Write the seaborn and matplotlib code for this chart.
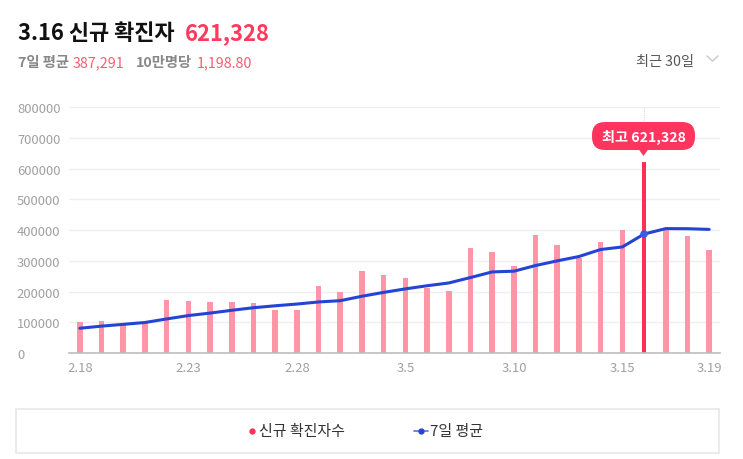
import numpy as np
import pandas as pd
import matplotlib
matplotlib.use("Agg")
import matplotlib.pyplot as plt
from matplotlib.patches import FancyBboxPatch, Polygon, Rectangle
from matplotlib.lines import Line2D
from matplotlib.transforms import IdentityTransform
import seaborn as sns

# ---- data ----
dates = ["2.18", "2.19", "2.20", "2.21", "2.22", "2.23", "2.24", "2.25", "2.26", "2.27",
         "2.28", "3.1", "3.2", "3.3", "3.4", "3.5", "3.6", "3.7", "3.8", "3.9",
         "3.10", "3.11", "3.12", "3.13", "3.14", "3.15", "3.16", "3.17", "3.18", "3.19"]
new_cases = [102211, 104829, 95362, 99573, 171452, 170016, 165890, 166209, 163566, 139626,
             138993, 219241, 198803, 266853, 254327, 243628, 210716, 202721, 342446, 327549,
             282987, 383665, 350190, 309790, 362338, 400741, 621328, 407017, 381454, 334708]
avg7 = [80596, 87510, 93284, 99341, 110913, 121896, 129905, 139047, 147438, 153762,
        159393, 166220, 170333, 184756, 197344, 208782, 218937, 228041, 245642, 264034,
        266339, 284816, 300039, 314193, 336995, 345323, 387291, 405010, 404694, 402482]
shown_ticks = ["2.18", "2.23", "2.28", "3.5", "3.10", "3.15", "3.19"]
y_ticks = [0, 100000, 200000, 300000, 400000, 500000, 600000, 700000, 800000]
peak_date = "3.16"
peak_label = "최고 621,328"
title_main = "3.16 신규 확진자"
title_value = "621,328"
sub_parts = [("7일 평균", "#888888", "bold"), ("387,291", "#ff5a74", "normal"),
             ("10만명당", "#888888", "bold"), ("1,198.80", "#ff5a74", "normal")]
legend_labels = ["신규 확진자수", "7일 평균"]

# ---- style ----
sns.set_theme(style="white")
plt.rcParams['font.family'] = ['Noto Sans CJK KR', 'DejaVu Sans']

W, H = 743, 460
fig = plt.figure(figsize=(W / 100, H / 100), dpi=100)
fig.patch.set_facecolor("white")

def fx(px):
    return px / W

def fy(py):
    return 1 - py / H

ax = fig.add_axes([fx(69), fy(354), fx(720) - fx(69), fy(108) - fy(354)])
ax.set_facecolor("white")

PINK = "#ff95a6"
RED = "#ff2e57"
BLUE = "#2344d4"

df = pd.DataFrame({"date": dates, "cases": new_cases, "avg": avg7})
df["kind"] = np.where(df["date"] == peak_date, "peak", "normal")
df["x"] = np.arange(len(df))

sns.barplot(data=df, x="date", y="cases", hue="kind", palette={"normal": PINK, "peak": RED},
            width=0.26, dodge=False, legend=False, ax=ax, saturation=1, zorder=2)
pi = dates.index(peak_date)
for p in ax.patches:
    p.set_linewidth(0)
    cxp = p.get_x() + p.get_width() / 2
    if abs(cxp - pi) < 0.01 and p.get_height() > 0:
        p.set_width(0.22)
        p.set_x(pi - 0.11)

sns.lineplot(data=df, x="x", y="avg", color=BLUE, linewidth=2.2, ax=ax, zorder=4)
ax.scatter([pi], [avg7[pi]], s=30, color="#3b5ce0", zorder=5, edgecolor="none")

ax.set_xlim(-0.5, len(dates) - 0.5)
ax.set_ylim(0, 801000)
ax.set_yticks(y_ticks)
ax.set_yticklabels([str(v) for v in y_ticks])
tick_pos = [dates.index(d) for d in shown_ticks]
ax.set_xticks(tick_pos)
ax.set_xticklabels(shown_ticks)
ax.set_xlabel("")
ax.set_ylabel("")
ax.grid(axis="y", color="#efefef", linewidth=1, zorder=0)
ax.set_axisbelow(True)
for s in ["top", "right", "left"]:
    ax.spines[s].set_visible(False)
ax.spines["bottom"].set_color("#bdbdbd")
ax.spines["bottom"].set_linewidth(1.2)
ax.tick_params(axis="y", length=0, pad=37.5, labelsize=9.4, labelcolor="#a0a0a0")
for lab in ax.get_yticklabels():
    lab.set_horizontalalignment("left")
ax.tick_params(axis="x", length=0, pad=6, labelsize=9.4, labelcolor="#a0a0a0")

# vertical dotted guide to tooltip
ax.plot([pi, pi], [730000, 801000], color="#dddddd", linewidth=0.8, linestyle=(0, (1, 1)), zorder=1)

# ---- tooltip (pixel coordinates, origin bottom-left) ----
bx0, bx1, by0, by1 = 592, 695, 123, 151
pill = FancyBboxPatch((bx0, H - by1), bx1 - bx0, by1 - by0,
                      boxstyle="round,pad=0,rounding_size=13", transform=IdentityTransform(),
                      facecolor="#ff3560", edgecolor="none", zorder=10)
fig.patches.append(pill)
cx = (bx0 + bx1) / 2
fig.patches.append(Polygon([(cx - 5, H - by1 + 1), (cx + 5, H - by1 + 1), (cx, H - 157)],
                           closed=True, transform=IdentityTransform(), facecolor="#ff3560",
                           edgecolor="none", zorder=10))
fig.text(fx(cx), fy((by0 + by1) / 2 + 0.5), peak_label, color="white", fontsize=10.2,
         fontweight="bold", ha="center", va="center", zorder=11)

# ---- header ----
renderer = fig.canvas.get_renderer()

def chain(x, y, parts, size):
    for txt, col, wt, gap in parts:
        t = fig.text(fx(x), fy(y), txt, color=col, fontsize=size, fontweight=wt,
                     ha="left", va="baseline")
        bb = t.get_window_extent(renderer=renderer)
        x = x + bb.width + gap

chain(18, 40, [(title_main, "#111111", "bold", 10), (title_value, "#ff3a5c", "bold", 0)], 15.8)
chain(18, 67, [(sub_parts[0][0], sub_parts[0][1], sub_parts[0][2], 4),
               (sub_parts[1][0], sub_parts[1][1], sub_parts[1][2], 11),
               (sub_parts[2][0], sub_parts[2][1], sub_parts[2][2], 5),
               (sub_parts[3][0], sub_parts[3][1], sub_parts[3][2], 0)], 10.3)
fig.text(fx(636), fy(66), "최근 30일", color="#555555", fontsize=10.2, ha="left", va="baseline")
fig.lines.append(Line2D([fx(707), fx(712.5), fx(718)], [fy(57), fy(62), fy(57)],
                        transform=fig.transFigure, color="#c8c8c8", linewidth=1))

# ---- legend ----
fig.patches.append(Rectangle((fx(16), fy(454)), fx(719) - fx(16), fy(410) - fy(454),
                             transform=fig.transFigure, facecolor="white",
                             edgecolor="#e8e8e8", linewidth=1.2))
fig.lines.append(Line2D([fx(252)], [fy(432)], transform=fig.transFigure, marker="o",
                        markersize=3.5, color=RED, linestyle="none"))
fig.text(fx(259), fy(432), legend_labels[0], color="#333333", fontsize=10.8, ha="left", va="center")
fig.lines.append(Line2D([fx(414), fx(428)], [fy(432), fy(432)], transform=fig.transFigure,
                        color="#5a6fe0", linewidth=1.2))
fig.lines.append(Line2D([fx(421)], [fy(432)], transform=fig.transFigure, marker="o",
                        markersize=3.5, color="#2344d4", linestyle="none"))
fig.text(fx(430), fy(432), legend_labels[1], color="#333333", fontsize=10.8, ha="left", va="center")

fig.savefig("out.png", dpi=100, facecolor="white")
